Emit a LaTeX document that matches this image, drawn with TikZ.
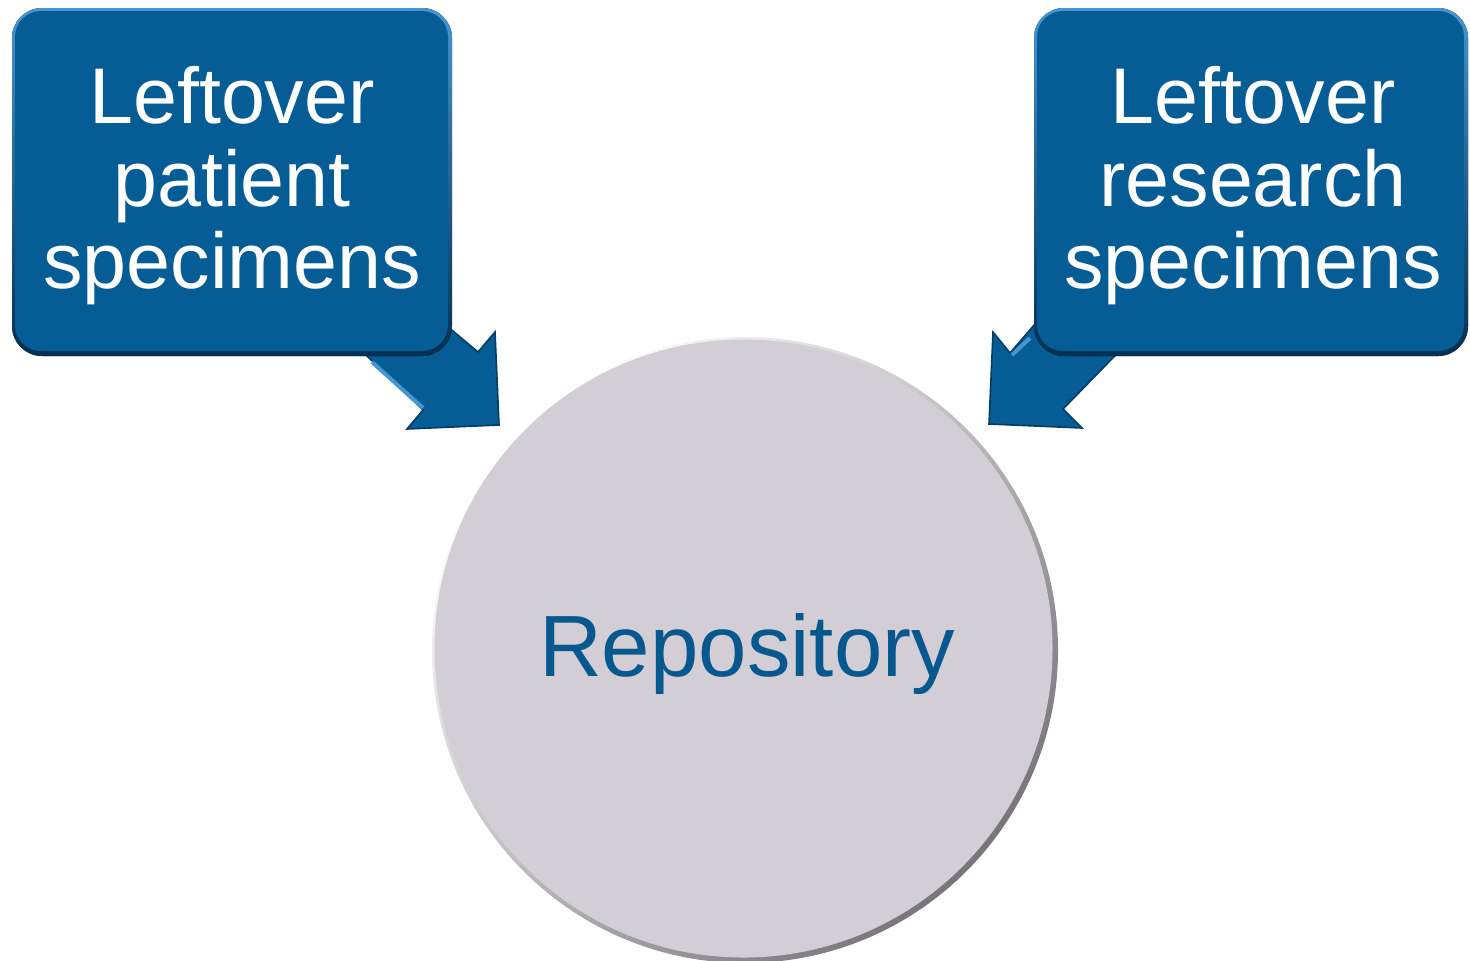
\documentclass[tikz,border=0pt]{standalone}
\usepackage{fontspec}
\setmainfont{Liberation Sans}
\definecolor{boxblue}{RGB}{6,93,150}
\definecolor{boxlight}{RGB}{70,150,210}
\definecolor{boxdark}{RGB}{3,48,82}
\definecolor{arrowedge}{RGB}{4,60,100}
\definecolor{circfill}{RGB}{211,206,213}
\definecolor{circdark}{RGB}{120,116,122}
\definecolor{textblue}{RGB}{7,88,143}
\tikzset{
  boxtext/.style={text=white, align=center, inner sep=0pt,
    font=\fontsize{39.5}{41.25}\selectfont},
  blockarrow/.style={fill=boxblue, draw=arrowedge, line width=0.8pt, line join=miter},
  repotext/.style={text=textblue, inner sep=0pt, font=\fontsize{43.5}{48}\selectfont}
}
\begin{document}
\begin{tikzpicture}[x=0.5pt,y=-0.5pt]
\useasboundingbox (0,0) rectangle (1470,960);
\fill[white] (0,0) rectangle (1470,960);
% block arrows (behind boxes)
\filldraw[blockarrow] (410,295) -- (478,352) -- (495,332) -- (499,425) -- (407,429) -- (423,410) -- (340,330) -- cycle;
\filldraw[blockarrow] (1060,295) -- (1010,353) -- (993,332) -- (989,424) -- (1082,428) -- (1063,409) -- (1140,330) -- cycle;
% highlight stripes on arrows
\draw[boxlight, line width=2pt] (372,362) -- (423,408);
\draw[boxlight, line width=2pt] (1030,338) -- (1012,355);
% boxes
\fill[top color=boxlight, bottom color=boxdark, rounded corners=15pt] (12,8) rectangle (452,356);
\fill[boxblue, rounded corners=13pt] (15,11) rectangle (448,351);
\fill[top color=boxlight, bottom color=boxdark, rounded corners=15pt] (1034,8) rectangle (1468,356);
\fill[boxblue, rounded corners=13pt] (1037,11) rectangle (1464,351);
% circle
\shade[top color=white, bottom color=circdark, shading angle=45] (745,650) circle[radius=313];
\fill[circfill] (743.5,648.5) circle[radius=309];
% texts
\node[boxtext] (lp) at (232,186) {Leftover\\patient\\specimens};
\node[boxtext] (lr) at (1253,186) {Leftover\\research\\specimens};
\node[repotext, anchor=base] (repo) at (747,676) {Repository};
\end{tikzpicture}
\end{document}
